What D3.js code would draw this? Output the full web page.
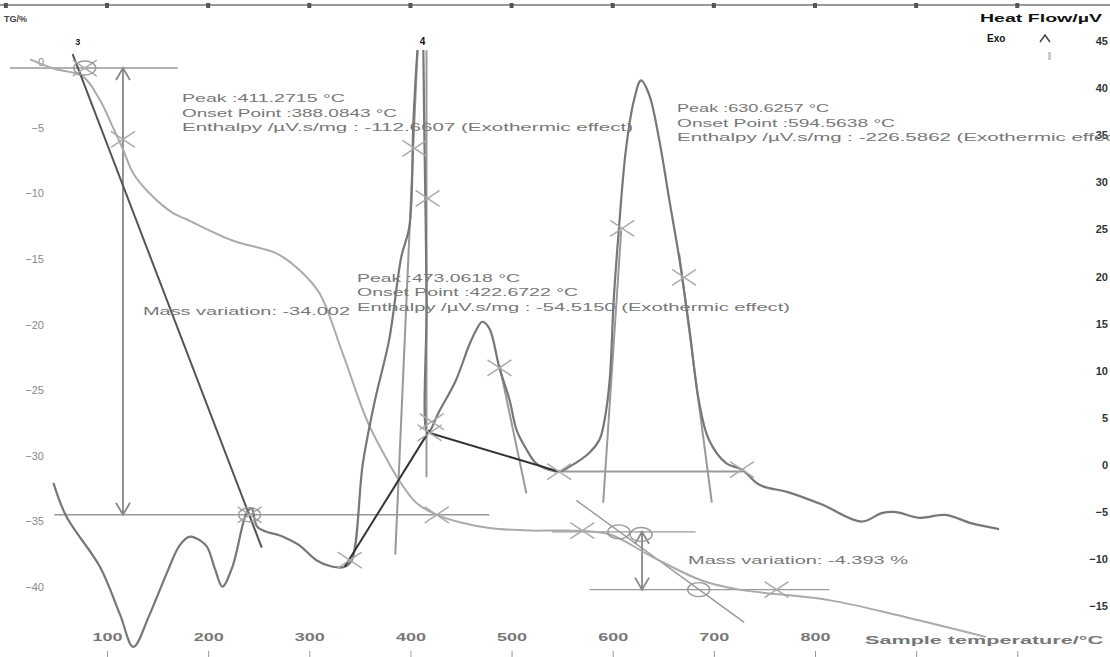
<!DOCTYPE html>
<html>
<head>
<meta charset="utf-8">
<script src="https://cdn.jsdelivr.net/npm/d3@7"></script>
<style>
body { margin: 0; background: #fff; }
svg { display: block; font-family: "Liberation Sans", Arial, sans-serif; }
</style>
</head>
<body>
<script>
// ---- data ----
// DSC (heat flow, µV) against sample temperature (°C)
var dscTemp = [47, 60, 93, 113, 126, 142, 159, 172, 182, 192, 199, 207, 214, 224, 238, 243, 249, 274, 290, 307,
  323, 335, 342, 353, 365, 379, 391, 399, 403, 407, 411, 414, 416, 417, 429, 445, 458, 465, 471, 478,
  488, 498, 505, 515, 524, 537, 547, 557, 577, 587, 592, 597, 601, 606, 613, 621, 628, 636, 646, 656,
  666, 676, 685, 695, 712, 728, 745, 774, 807, 846, 866, 880, 903, 929, 955, 982];
var dscFlow = [-1.9, -5.5, -10.8, -15.9, -19.3, -15.9, -11.5, -8.5, -7.6, -8.0, -8.7, -11.1, -12.9, -10.8, -5.1, -4.6, -6.6, -7.6, -8.5, -10.1,
  -10.8, -10.8, -10.1, 0.2, 6.9, 13.3, 22.1, 25.3, 36.6, 44, 48, 33.4, 17.5, 3.4, 5.8, 9.0, 12.7, 14.3, 15.2, 14.5,
  10.3, 6.9, 3.7, 1.6, 0.2, -0.5, -0.7, -0.2, 1.3, 2.7, 4.8, 9.0, 17.5, 24.9, 33.4, 38.7, 40.8, 39.3, 34.5, 28.1,
  21.8, 14.3, 6.9, 2.7, 0.2, -0.5, -2.1, -2.9, -4.2, -6.0, -5.1, -5.0, -5.6, -5.3, -6.2, -6.8];

// TG (mass, %) against sample temperature (°C)
var tgTemp = [24, 47, 76, 93, 106, 116, 126, 142, 165, 179, 224, 268, 291, 310, 333, 357, 374, 389, 406, 426,
  451, 478, 518, 557, 597, 639, 688, 725, 814, 890, 969];
var tgMass = [0.2, -0.5, -1.1, -2.9, -5.0, -6.7, -8.5, -10.0, -11.5, -12.0, -13.6, -14.6, -15.9, -17.6, -22.2, -27.3, -29.9, -31.9, -33.6, -34.5,
  -35.1, -35.5, -35.7, -35.7, -36.0, -37.7, -39.5, -40.2, -41.0, -42.3, -43.8];

// tick labels
var tempTicks = [100, 200, 300, 400, 500, 600, 700, 800];
var tempMarks = [100, 200, 300, 400, 500, 600, 700, 800, 900, 1000];
var tgTicks = [0, -5, -10, -15, -20, -25, -30, -35, -40];
var flowTicks = [-15, -10, -5, 0, 5, 10, 15, 20, 25, 30, 35, 40, 45];

// mass-step construction lines [T1, m1, T2, m2]
var tgGuides = [[4, -0.46, 170, -0.46], [48, -34.5, 478, -34.5],
  [540, -35.8, 682, -35.8], [577, -40.2, 814, -40.2], [564, -33.4, 730, -42.7]];
var tgTangents = [[66, 0.6, 253, -37.0]];
var tgArrows = [[115.8, -0.46, -34.5], [629, -35.8, -40.2]];
var tgCrosses = [[78, -0.46], [115.8, -5.9], [241, -34.5], [426, -34.5], [570, -35.7], [762, -40.2]];
var tgRings = [[78, -0.46], [241, -34.5], [606, -35.8], [628, -36.0], [685, -40.2]];

// peak construction lines [T1, µV1, T2, µV2]
var dscBaselines = [[335, -10.8, 419, 3.7], [419, 3.4, 547, -0.7]];
var dscGuides = [[385, -9.5, 407, 44], [415.9, 44, 415.9, -1.3], [488, 10.6, 514.6, -3.0],
  [547, -0.7, 729, -0.7], [590.6, -4.0, 608.4, 24.9], [698, -4.0, 665.6, 22.5]];
var dscCrosses = [[404, 33.6], [417, 28.3], [419, 3.4], [421, 4.6], [340, -10.1], [488, 10.3],
  [547, -0.7], [609.4, 25.1], [670.6, 19.9], [727.8, -0.5]];

// text blocks: [x, y, text, width]
var notes = [
  [182, 102, 'Peak :411.2715 °C', 163],
  [182, 117, 'Onset Point :388.0843 °C', 215],
  [182, 131, 'Enthalpy /µV.s/mg : -112.6607 (Exothermic effect)', 451],
  [677, 112, 'Peak :630.6257 °C', 152],
  [677, 127, 'Onset Point :594.5638 °C', 218],
  [677, 141, 'Enthalpy /µV.s/mg : -226.5862 (Exothermic effect)', 451],
  [357, 282, 'Peak :473.0618 °C', 163],
  [357, 296, 'Onset Point :422.6722 °C', 221],
  [357, 311, 'Enthalpy /µV.s/mg : -54.5150 (Exothermic effect)', 433],
  [143, 315, 'Mass variation: -34.002', 207],
  [688, 564, 'Mass variation: -4.393 %', 220]
];

// ---- chart ----
var width = 1110, height = 657;

var svg = d3.select('body').append('svg')
  .attr('width', width)
  .attr('height', height);

var x = d3.scaleLinear().domain([100, 800]).range([107, 815]);
var yTG = d3.scaleLinear().domain([0, -40]).range([62, 587]);
var yDSC = d3.scaleLinear().domain([0, 40]).range([465, 88]);

svg.append('clipPath').attr('id', 'plot')
  .append('rect').attr('x', 8).attr('y', 50).attr('width', 1070).attr('height', 600);

// top frame line with ticks
svg.append('line').attr('x1', 0).attr('x2', width).attr('y1', 5).attr('y2', 5)
  .attr('stroke', '#999').attr('stroke-width', 2);
svg.append('g').selectAll('rect').data(tempMarks.concat([0])).enter().append('rect')
  .attr('x', function(d) { return x(d) - 2; })
  .attr('y', 3).attr('width', 4).attr('height', 5).attr('fill', '#555');

// header texts
svg.append('text').attr('x', 4).attr('y', 22).attr('font-size', 9).attr('fill', '#444')
  .attr('font-weight', 'bold').text('TG/%');
svg.append('text').attr('x', 980).attr('y', 22).attr('font-size', 10).attr('fill', '#111')
  .attr('font-weight', 'bold').attr('textLength', 122).attr('lengthAdjust', 'spacingAndGlyphs')
  .text('Heat Flow/µV');
svg.append('text').attr('x', 987).attr('y', 42).attr('font-size', 10).attr('fill', '#111')
  .attr('font-weight', 'bold').text('Exo');
svg.append('path').attr('d', 'M1040,42 L1045,35 L1050,42').attr('fill', 'none')
  .attr('stroke', '#444').attr('stroke-width', 1.5);
svg.append('rect').attr('x', 1048).attr('y', 52).attr('width', 3).attr('height', 8).attr('fill', '#ccc');

// peak markers 3 and 4
svg.append('text').attr('x', x(71)).attr('y', 45).attr('text-anchor', 'middle')
  .attr('font-size', 9).attr('font-weight', 'bold').attr('fill', '#222').text('3');
svg.append('text').attr('x', x(412)).attr('y', 45).attr('text-anchor', 'middle')
  .attr('font-size', 10).attr('font-weight', 'bold').attr('fill', '#111').text('4');

// left axis (TG %)
var leftAxis = svg.append('g').attr('transform', 'translate(44,0)')
  .call(d3.axisLeft(yTG).tickValues(tgTicks).tickSize(0).tickPadding(0));
leftAxis.select('.domain').remove();
leftAxis.selectAll('text').attr('fill', '#888').attr('font-size', 11)
  .attr('font-family', '"Liberation Sans", Arial, sans-serif');

// right axis (heat flow µV)
var rightAxis = svg.append('g').attr('transform', 'translate(1108,0)')
  .call(d3.axisLeft(yDSC).tickValues(flowTicks).tickSize(0).tickPadding(0));
rightAxis.select('.domain').remove();
rightAxis.selectAll('text').attr('fill', '#333').attr('font-size', 11).attr('font-weight', 'bold')
  .attr('font-family', '"Liberation Sans", Arial, sans-serif');

// bottom axis labels and tick marks
var bottomAxis = svg.append('g').attr('transform', 'translate(0,633)')
  .call(d3.axisBottom(x).tickValues(tempTicks).tickSize(0).tickPadding(0));
bottomAxis.select('.domain').remove();
bottomAxis.selectAll('text').attr('fill', '#777').attr('font-size', 11).attr('font-weight', 'bold')
  .attr('font-family', '"Liberation Sans", Arial, sans-serif')
  .attr('textLength', 30).attr('lengthAdjust', 'spacingAndGlyphs');
var markAxis = svg.append('g').attr('transform', 'translate(0,651)')
  .call(d3.axisBottom(x).tickValues(tempMarks).tickSize(6).tickFormat(''));
markAxis.select('.domain').remove();
markAxis.selectAll('line').attr('stroke', '#999');

svg.append('text').attr('x', 865).attr('y', 644).attr('font-size', 11).attr('fill', '#777')
  .attr('font-weight', 'bold').attr('textLength', 238).attr('lengthAdjust', 'spacingAndGlyphs')
  .text('Sample temperature/°C');

var plot = svg.append('g').attr('clip-path', 'url(#plot)');

function segs(g, data, ys, color, w) {
  g.selectAll(null).data(data).enter().append('line')
    .attr('x1', function(d) { return x(d[0]); })
    .attr('y1', function(d) { return ys(d[1]); })
    .attr('x2', function(d) { return x(d[2]); })
    .attr('y2', function(d) { return ys(d[3]); })
    .attr('stroke', color).attr('stroke-width', w);
}

function crosses(g, data, ys) {
  g.selectAll(null).data(data).enter().append('path')
    .attr('d', function(d) {
      var cx = x(d[0]), cy = ys(d[1]);
      return 'M' + (cx - 12) + ',' + (cy - 8) + 'L' + (cx + 12) + ',' + (cy + 8) +
        'M' + (cx - 12) + ',' + (cy + 8) + 'L' + (cx + 12) + ',' + (cy - 8);
    })
    .attr('fill', 'none').attr('stroke', '#aaa').attr('stroke-width', 1.5);
}

// guide lines
segs(plot, tgGuides, yTG, '#999', 1.4);
segs(plot, dscGuides, yDSC, '#999', 2);

// mass variation arrows
plot.selectAll(null).data(tgArrows).enter().append('path')
  .attr('d', function(d) {
    var ax = x(d[0]), a = yTG(d[1]), b = yTG(d[2]);
    return 'M' + ax + ',' + a + 'L' + ax + ',' + b +
      'M' + (ax - 7) + ',' + (a + 12) + 'L' + ax + ',' + a + 'L' + (ax + 7) + ',' + (a + 12) +
      'M' + (ax - 7) + ',' + (b - 12) + 'L' + ax + ',' + b + 'L' + (ax + 7) + ',' + (b - 12);
  })
  .attr('fill', 'none').attr('stroke', '#888').attr('stroke-width', 1.8);

// TG curve
var tgLine = d3.line()
  .x(function(d, i) { return x(tgTemp[i]); })
  .y(function(d) { return yTG(d); })
  .curve(d3.curveCatmullRom);
plot.append('path').datum(tgMass).attr('d', tgLine)
  .attr('fill', 'none').attr('stroke', '#aaa').attr('stroke-width', 2);

// TG onset tangent (dark)
segs(plot, tgTangents, yTG, '#555', 2);

// DSC curve
var dscLine = d3.line()
  .x(function(d, i) { return x(dscTemp[i]); })
  .y(function(d) { return yDSC(d); })
  .curve(d3.curveCatmullRom);
plot.append('path').datum(dscFlow).attr('d', dscLine)
  .attr('fill', 'none').attr('stroke', '#777').attr('stroke-width', 2.2);

// integration baselines (dark)
segs(plot, dscBaselines, yDSC, '#333', 2);

// markers
crosses(plot, tgCrosses, yTG);
crosses(plot, dscCrosses, yDSC);
plot.selectAll(null).data(tgRings).enter().append('ellipse')
  .attr('cx', function(d) { return x(d[0]); })
  .attr('cy', function(d) { return yTG(d[1]); })
  .attr('rx', 11).attr('ry', 7)
  .attr('fill', 'none').attr('stroke', '#999').attr('stroke-width', 1.4);

// annotations
svg.append('g').selectAll('text').data(notes).enter().append('text')
  .attr('x', function(d) { return d[0]; })
  .attr('y', function(d) { return d[1]; })
  .attr('textLength', function(d) { return d[3]; })
  .attr('lengthAdjust', 'spacingAndGlyphs')
  .attr('font-size', 11).attr('fill', '#777')
  .text(function(d) { return d[2]; });
</script>
</body>
</html>
